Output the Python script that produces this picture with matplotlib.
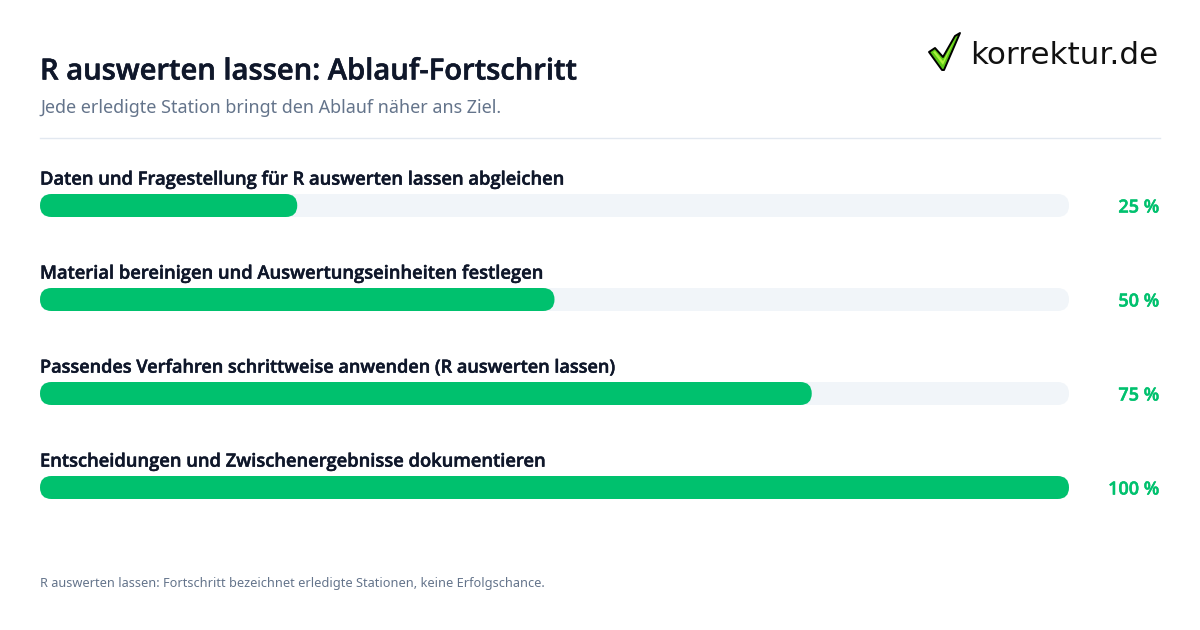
import matplotlib
matplotlib.use('Agg')
import matplotlib.pyplot as plt
from matplotlib.patches import FancyBboxPatch, Polygon
import matplotlib.patheffects as pe

plt.rcParams['font.family'] = ['Noto Sans', 'DejaVu Sans']

# Data
steps = [
    'Daten und Fragestellung für R auswerten lassen abgleichen',
    'Material bereinigen und Auswertungseinheiten festlegen',
    'Passendes Verfahren schrittweise anwenden (R auswerten lassen)',
    'Entscheidungen und Zwischenergebnisse dokumentieren',
]
progress = [25, 50, 75, 100]

title = 'R auswerten lassen: Ablauf-Fortschritt'
subtitle = 'Jede erledigte Station bringt den Ablauf näher ans Ziel.'
footnote = 'R auswerten lassen: Fortschritt bezeichnet erledigte Stationen, keine Erfolgschance.'

# Colours
dark = '#0f172a'
grey = '#64748b'
green = '#00c16e'
track = '#f1f5f9'
rule = '#e2e8f0'

W, H = 1200, 630
fig = plt.figure(figsize=(W / 100, H / 100), dpi=100, facecolor='white')

# overlay in pixel coords for title, rule, logo
bg = fig.add_axes([0, 0, 1, 1])
bg.set_xlim(0, W)
bg.set_ylim(H, 0)
bg.axis('off')


def heavier(color, width=0.35):
    return [pe.withStroke(linewidth=width, foreground=color)]


bg.text(40, 72, title, fontsize=21, fontweight=600, family='Open Sans', color=dark, va='center', ha='left',
        path_effects=heavier(dark, 0.4))
bg.text(40, 108, subtitle, fontsize=12.95, color=grey, va='center', ha='left')
bg.plot([40, 1160], [138, 138], color=rule, lw=1)
bg.text(40, 584, footnote, fontsize=9.2, color=grey, va='center', ha='left')

# logo
check = [(929, 52), (935, 48), (943, 57), (955, 36), (960, 33), (944, 70), (942, 70)]
bg.add_patch(Polygon(check, closed=True, fc='#5cc916', ec='black', lw=1.4, joinstyle='round'))
shine = [(933, 52), (935, 51), (943, 61), (955, 39), (943, 65)]
bg.add_patch(Polygon(shine, closed=True, fc='#a8f03c', ec='none'))
bg.text(970, 56, 'korrektur.de', fontsize=22.3, color='#111111', va='center', ha='left',
        family='DejaVu Sans')

# bars: x axis 0-100 %, one row = 94 px
row_px = 94
bar_px = 23
left, right = 40, 1069
top = 205.5 - row_px / 2
ax = fig.add_axes([left / W, 1 - (top + row_px * 4) / H, (right - left) / W, row_px * 4 / H])
ax.set_xlim(0, 100)
ax.set_ylim(3.5, -0.5)
ax.axis('off')
ax.patch.set_alpha(0)

px_x = 100 / (right - left)
r = bar_px / 2 * px_x
aspect = (1 / row_px) / px_x
h = bar_px / row_px


def pill(x_end, y, color):
    ax.add_patch(FancyBboxPatch((0, y - h / 2), x_end, h,
                                boxstyle=f'round,pad=0,rounding_size={r}',
                                mutation_aspect=aspect, fc=color, ec='none', clip_on=False))


# third label runs wide in Open Sans, so it gets a slightly smaller size
label_sizes = [13.2, 13.2, 13.02, 13.2]

for i, (name, val) in enumerate(zip(steps, progress)):
    pill(100, i, track)
    pill(val, i, green)
    ax.text(0, i - 0.275, name, fontsize=label_sizes[i], fontweight=600, family='Open Sans', color=dark,
            va='center', ha='left', path_effects=heavier(dark))
    ax.annotate(f'{val} %', (100, i), xytext=(90, -2), textcoords='offset pixels',
                fontsize=13, fontweight=600, family='Open Sans', color=green, va='center', ha='right',
                path_effects=heavier(green))

fig.savefig('out.png', dpi=100)
